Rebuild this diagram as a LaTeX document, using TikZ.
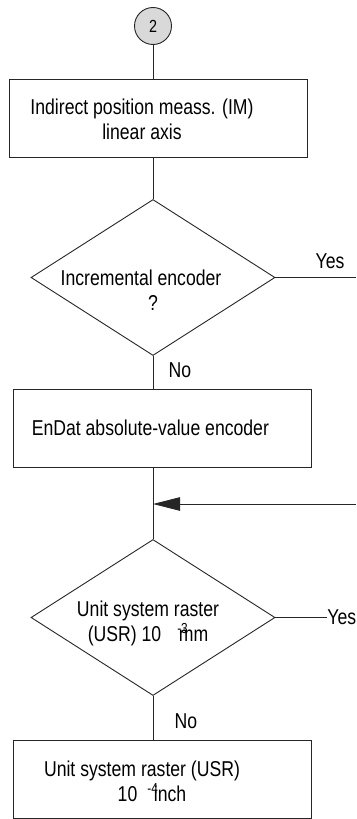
\documentclass[tikz,border=0pt]{standalone}
\usepackage{fontspec}
\setmainfont[FakeStretch=0.82]{Liberation Sans}
\usetikzlibrary{arrows.meta,shapes.geometric}
\newcommand{\rasterexp}[1]{\raisebox{8pt}{\fontsize{14.5}{14.5}\selectfont #1}}

\begin{document}
\begin{tikzpicture}[x=1pt,y=-1pt,line width=0.9pt,draw=black!85,
  every node/.style={font=\fontsize{21.5}{25}\selectfont},
  stepbox/.style={draw=black!85, minimum width=298pt, minimum height=78pt, inner sep=0pt},
  query/.style={draw=black!85, shape=diamond, minimum width=244pt, minimum height=156pt, inner sep=0pt}]
  \useasboundingbox (0,0) rectangle (356,819);

  % Connector circle
  \node[draw=black!85, circle, fill=black!15, minimum size=37pt, inner sep=0pt,
    font=\fontsize{17.5}{17.5}\selectfont] (link) at (153,26) {2};

  % Indirect position box
  \node[stepbox] (posbox) at (158,118) {};
  \node[align=center] (postext) at (142,119.5) {Indirect position meass. (IM)\\linear axis};

  % Query incremental encoder
  \node[query] (incq) at (153,277.5) {};
  \node[align=center] (inctext) at (153,290) {Incremental encoder\hspace*{24pt}\\?};
  \coordinate (incyes) at (356,277.5);
  \draw (incq.east) -- (incyes);
  \node (incyeslbl) at (330,261) {Yes};
  \node (incnolbl) at (180,370) {No};

  % EnDat box
  \node[stepbox] (endatbox) at (162,428) {};
  \node[anchor=west] (endattext) at (28,428) {EnDat absolute-value encoder};

  % Return arrow
  \coordinate (merge) at (153,504);
  \coordinate (loopin) at (356,504);
  \draw[-{Triangle[length=27pt,width=13.5pt]}] (loopin) -- (merge);

  % Query metric raster
  \node[query] (usrq) at (153,617.5) {};
  \node[align=center] (usrtext) at (148,623)
    {Unit system raster\\(USR) 10\hspace{16pt}\rasterexp{-3}\kern-9pt mm};
  \coordinate (usryes) at (327,617.5);
  \draw (usrq.east) -- (usryes);
  \node[anchor=west, inner sep=0pt] (usryeslbl) at (usryes) {Yes};
  \node (usrnolbl) at (186,721) {No};

  % Inch raster box
  \node[stepbox] (inchbox) at (162,779.5) {};
  \node[align=center] (inchtext) at (152,781)
    {Unit system raster (USR)\hspace*{20pt}\\10\hspace{10pt}\rasterexp{-4}\kern-4pt inch};

  % Vertical flow
  \draw (link.south) -- (link |- posbox.north);
  \draw (link |- posbox.south) -- (incq.north);
  \draw (incq.south) -- (incq |- endatbox.north);
  \draw (incq |- endatbox.south) -- (usrq.north);
  \draw (usrq.south) -- (usrq |- inchbox.north);
\end{tikzpicture}
\end{document}
